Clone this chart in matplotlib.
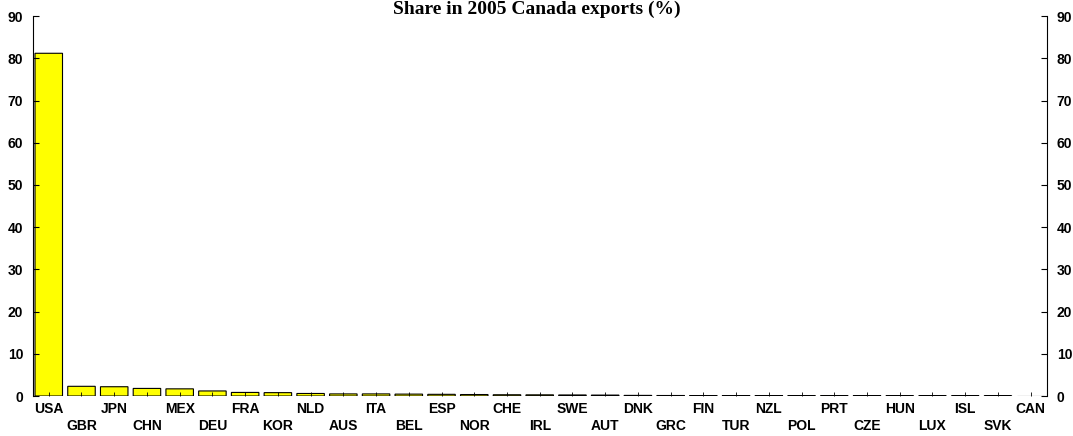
import numpy as np
import matplotlib
matplotlib.use("Agg")
import matplotlib.pyplot as plt

countries = ["USA", "GBR", "JPN", "CHN", "MEX", "DEU", "FRA", "KOR", "NLD", "AUS",
             "ITA", "BEL", "ESP", "NOR", "CHE", "IRL", "SWE", "AUT", "DNK", "GRC",
             "FIN", "TUR", "NZL", "POL", "PRT", "CZE", "HUN", "LUX", "ISL", "SVK", "CAN"]
share = [81.2, 2.3, 2.2, 1.8, 1.7, 1.2, 0.85, 0.8, 0.6, 0.5,
         0.5, 0.45, 0.4, 0.35, 0.3, 0.28, 0.25, 0.22, 0.15, 0.12,
         0.1, 0.1, 0.08, 0.08, 0.06, 0.05, 0.05, 0.04, 0.03, 0.02, 0.0]
yticks = np.arange(0, 91, 10)

plt.rcParams['font.family'] = ['Liberation Sans', 'DejaVu Sans']

fig = plt.figure(figsize=(10.73, 4.36), dpi=100)
ax = fig.add_axes([0.0308, 0.0917, 0.945, 0.8713])

x = np.arange(len(countries))
bars = ax.bar(x, share, width=0.84, color='#FFFF00', edgecolor='black', linewidth=0.8)
for b in bars:
    if b.get_height() > 0:
        b.set_snap(False)

ax.set_xlim(-0.48, len(countries) - 0.5)
ax.set_ylim(0, 90)

# staggered labels: odd ones go on a second row
labels = [c if i % 2 == 0 else "\n" + c for i, c in enumerate(countries)]
ax.set_xticks(x)
ax.set_xticklabels(labels, fontsize=10, fontweight='bold', linespacing=1.3)
ax.tick_params(axis='x', direction='in', length=3, width=0.6, pad=4)

ax.set_yticks(yticks)
ax.tick_params(axis='y', direction='in', length=4, width=0.8, labelsize=10,
               left=True, right=True, labelleft=True, labelright=True, pad=7)
for t in ax.yaxis.get_major_ticks():
    t.label1.set_fontweight('bold')
    t.label2.set_fontweight('bold')

ax.spines['top'].set_visible(False)
ax.spines['bottom'].set_visible(False)
ax.spines['left'].set_linewidth(0.8)
ax.spines['right'].set_linewidth(0.8)

fig.text(0.5, 0.999, "Share in 2005 Canada exports (%)", ha='center', va='top',
         fontsize=14, fontweight='bold', family=['Liberation Serif', 'DejaVu Serif'])

fig.savefig("out.png", dpi=100)
